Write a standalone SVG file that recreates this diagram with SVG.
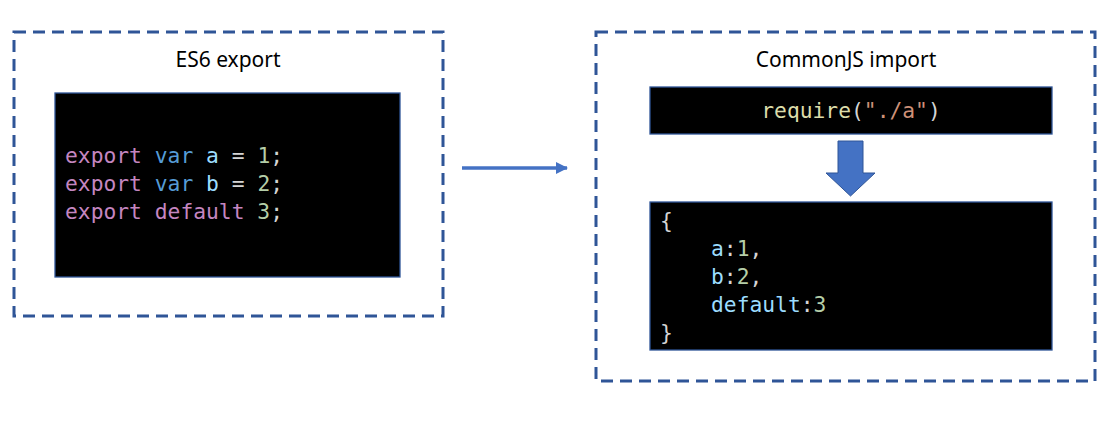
<svg xmlns="http://www.w3.org/2000/svg" width="1116" height="423" viewBox="0 0 1116 423">
<style>
.frame{fill:none;stroke:#2F5597;stroke-width:3;stroke-dasharray:12 7}
.code{fill:#000;stroke:#2F5597;stroke-width:1.3}
.title{font-family:"Noto Sans","Liberation Sans",sans-serif;font-size:21px;fill:#000;text-anchor:middle}
.mono{font-family:"DejaVu Sans Mono","Liberation Mono",monospace;font-size:21.3px}
.kw{fill:#C586C0}.st{fill:#569CD6}.id{fill:#9CDCFE}.op{fill:#D4D4D4}.num{fill:#B5CEA8}.fn{fill:#DCDCAA}.str{fill:#CE9178}
</style>
<defs>
<marker id="ah" markerWidth="12" markerHeight="12" refX="11" refY="6" orient="auto" markerUnits="userSpaceOnUse">
<path d="M0,0 L12,6 L0,12 Z" fill="#4472C4"/>
</marker>
</defs>
<g id="es6">
<rect class="frame" x="14" y="32" width="429" height="284"/>
<text class="title" x="228" y="67">ES6 export</text>
<rect class="code" x="55" y="93" width="345" height="184"/>
<text class="mono" x="65" y="163"><tspan class="kw">export</tspan> <tspan class="st">var</tspan> <tspan class="id">a</tspan> <tspan class="op">=</tspan> <tspan class="num">1</tspan><tspan class="op">;</tspan></text>
<text class="mono" x="65" y="191"><tspan class="kw">export</tspan> <tspan class="st">var</tspan> <tspan class="id">b</tspan> <tspan class="op">=</tspan> <tspan class="num">2</tspan><tspan class="op">;</tspan></text>
<text class="mono" x="65" y="219"><tspan class="kw">export</tspan> <tspan class="kw">default</tspan> <tspan class="num">3</tspan><tspan class="op">;</tspan></text>
</g>
<g id="cjs">
<rect class="frame" x="596" y="32" width="499" height="349"/>
<text class="title" x="846" y="67">CommonJS import</text>
<g id="require">
<rect class="code" x="650" y="87" width="402" height="47"/>
<text class="mono" x="851" y="118" text-anchor="middle"><tspan class="fn">require</tspan><tspan class="op">(</tspan><tspan class="str">"./a"</tspan><tspan class="op">)</tspan></text>
</g>
<g id="result">
<rect class="code" x="650" y="202" width="402" height="148"/>
<text class="mono op" x="660" y="228">{</text>
<text class="mono" x="711" y="256"><tspan class="id">a</tspan><tspan class="op">:</tspan><tspan class="num">1</tspan><tspan class="op">,</tspan></text>
<text class="mono" x="711" y="284"><tspan class="id">b</tspan><tspan class="op">:</tspan><tspan class="num">2</tspan><tspan class="op">,</tspan></text>
<text class="mono" x="711" y="312"><tspan class="id">default</tspan><tspan class="op">:</tspan><tspan class="num">3</tspan></text>
<text class="mono op" x="660" y="340">}</text>
</g>
</g>
<g id="connectors">
<line x1="462" y1="168" x2="567" y2="168" stroke="#4472C4" stroke-width="3.5" marker-end="url(#ah)"/>
<path d="M838,141 L863,141 L863,173 L875,173 L850.5,196 L826,173 L838,173 Z" fill="#4472C4" stroke="#2F5597" stroke-width="1"/>
</g>
</svg>
